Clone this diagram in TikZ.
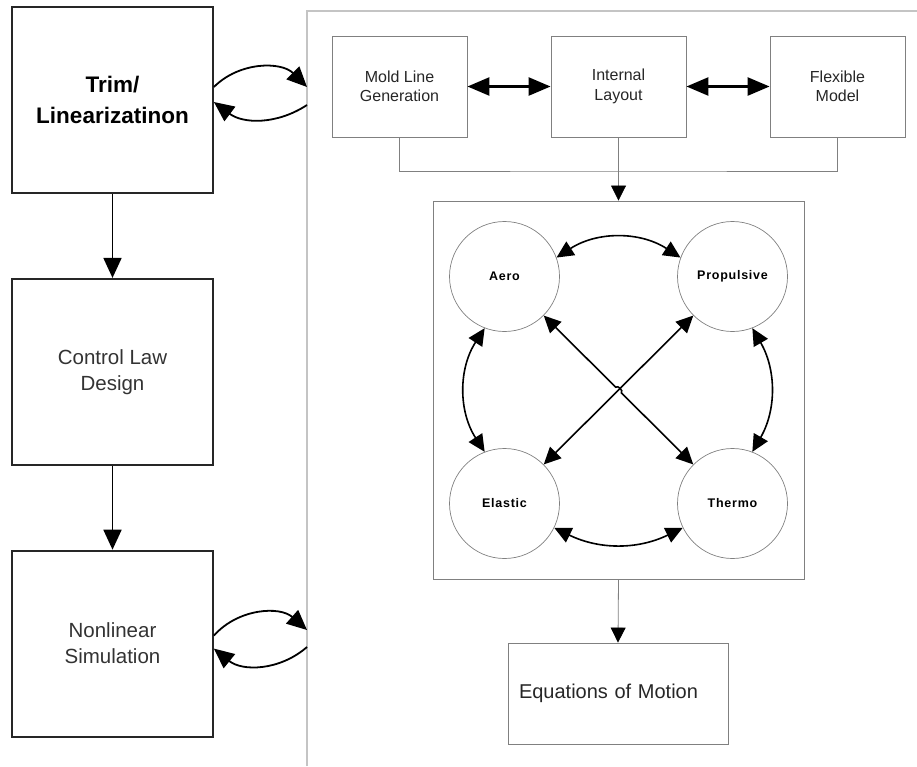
\documentclass[tikz,border=0pt]{standalone}
\usepackage{fontspec}
\setmainfont{Liberation Sans}
\newfontfamily\disciplinefont[LetterSpace=6]{Liberation Sans}
\usepackage{xcolor}
\usepackage{tikz}
\usetikzlibrary{arrows.meta, positioning, calc}

\definecolor{boxgray}{HTML}{808080}
\definecolor{panelgray}{HTML}{C4C4C4}
\definecolor{textgray}{HTML}{333333}

\begin{document}
\begin{tikzpicture}[
  x=1pt, y=-1pt,
  stage/.style={draw=black!85, line width=1.8pt, minimum width=201pt, minimum height=186pt, align=center, font=\fontsize{20.5}{26}\selectfont, text=textgray},
  tool/.style={draw=boxgray, line width=0.9pt, minimum width=135pt, minimum height=101pt, align=center, font=\fontsize{16}{19.5}\selectfont, text=black!85},
  discipline/.style={circle, draw=boxgray, line width=0.7pt, minimum size=110pt, inner sep=0pt, font=\disciplinefont\bfseries\fontsize{12.5}{15}\selectfont},
  flow/.style={-{Triangle[length=20pt,width=18pt]}, line width=1.8pt},
  twoway/.style={{Triangle[length=17pt,width=16pt]}-{Triangle[length=17pt,width=16pt]}, line width=1.6pt},
  linkway/.style={{Triangle[length=22pt,width=18pt]}-{Triangle[length=22pt,width=18pt]}, line width=2.6pt},
  feed/.style={draw=boxgray, line width=0.8pt},
  feedin/.style={feed, -{Triangle[length=15pt,width=15pt,color=black]}},
]
\useasboundingbox (0,0) rectangle (917,766);

% left column: trim, control design, simulation
\node[stage, text=black, font=\fontsize{22.5}{31}\selectfont\bfseries] (trim) at (112.5,100) {Trim/\\Linearizatinon};
\node[stage, below=84pt of trim] (control) {Control Law\\Design};
\node[stage, below=84pt of control] (sim) {Nonlinear\\Simulation};
\draw[flow] (trim) -- (control);
\draw[flow] (control) -- (sim);

% vehicle model panel
\draw[panelgray, line width=1.6pt] (307,766) -- (307,11) -- (917,11);
\coordinate (trimin) at (307,87);
\coordinate (trimout) at (307,105);
\coordinate (simin) at (307,630);
\coordinate (simout) at (307,647);

% exchange with the panel
\draw[flow] ([yshift=13pt]trim.east) to[bend left=45] (trimin);
\draw[flow] (trimout) to[bend left=35] ([yshift=-2pt]trim.east);
\draw[flow] ([yshift=8pt]sim.east) to[bend left=45] (simin);
\draw[flow] (simout) to[bend left=40] ([yshift=-5pt]sim.east);

% geometry tools
\node[tool] (mold) at (399.5,86.5) {Mold Line\\Generation};
\node[tool] (layout) at (618.5,86.5) {Internal\\Layout};
\node[tool] (flexible) at (837.5,86.5) {Flexible\\Model};
\draw[linkway] (mold) -- (layout);
\draw[linkway] (layout) -- (flexible);

% coupled disciplines
\node[draw=boxgray, line width=0.9pt, minimum width=371pt, minimum height=378pt] (coupled) at (618.5,390) {};
\node[discipline] (aero) at (504.5,276.5) {Aero};
\node[discipline] (propulsive) at (732.5,276.5) {Propulsive};
\node[discipline] (elastic) at (504.5,503.5) {Elastic};
\node[discipline] (thermo) at (732.5,503.5) {Thermo};

\coordinate (bus) at (618.5,171);
\draw[feed] (mold.south) |- (bus) -| (flexible.south);
\draw[feedin] (layout.south) -- (coupled.north);

\draw[twoway] (aero.20) to[bend left=33] (propulsive.160);
\draw[twoway] (aero.249) to[bend right=33] (elastic.111);
\draw[twoway] (propulsive.291) to[bend left=30] (thermo.69);
\draw[twoway] (elastic.334) to[bend right=26] (thermo.206);

% diagonals, one hopping over the other
\coordinate (cross) at (intersection of aero--thermo and elastic--propulsive);
\draw[twoway] (elastic) -- (propulsive);
\draw[twoway] (aero) -- ($(cross)!4pt!(aero)$) to[bend left=90] ($(cross)!4pt!(thermo)$) -- (thermo);

% output
\node[draw=boxgray, line width=0.9pt, minimum width=220pt, minimum height=101pt, text width=198pt, align=left, inner sep=11pt, font=\fontsize{20}{24}\selectfont, text=black!85] (motion) at (618,693.5) {Equations of Motion};
\draw[feedin] (coupled.south) -- (motion.north);
\end{tikzpicture}
\end{document}
